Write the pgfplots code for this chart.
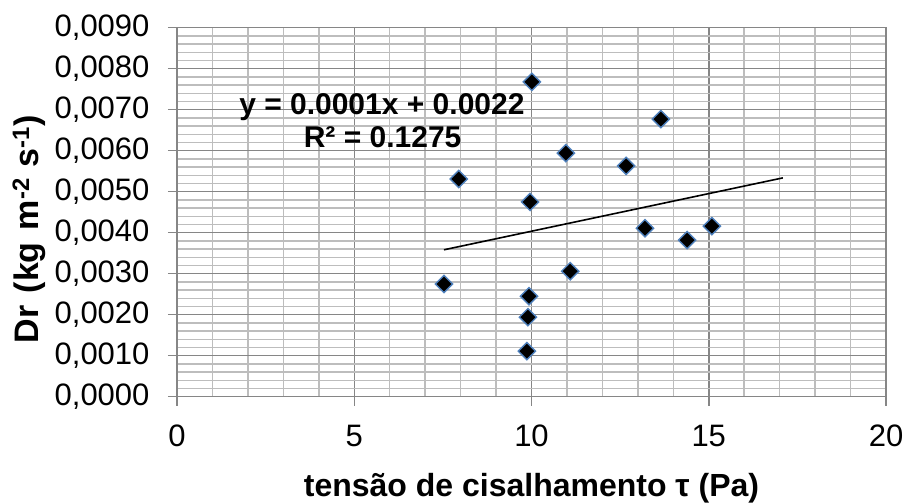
\documentclass[border=0pt]{standalone}
\usepackage{fontspec}
\setmainfont{Liberation Sans}
\usepackage{pgfplots}
\pgfplotsset{compat=1.18}
\definecolor{majgrid}{HTML}{868686}
\definecolor{mingrid}{HTML}{BDBDBD}
\definecolor{mkedge}{HTML}{4F81BD}
\begin{document}
\begin{tikzpicture}
\path[use as bounding box] (-177bp,-107.3bp) rectangle (728bp,396.7bp);
\begin{axis}[
  at={(0,0)}, anchor=south west,
  scale only axis, width=709bp, height=369bp,
  xmin=0, xmax=20, ymin=0, ymax=0.009,
  xtick={0,5,10,15,20},
  ytick={0,0.001,0.002,0.003,0.004,0.005,0.006,0.007,0.008,0.009},
  minor x tick num=4, minor y tick num=4,
  grid=both,
  major grid style={draw=majgrid, line width=1.5bp},
  minor grid style={draw=mingrid, line width=1.5bp},
  axis line style={draw=majgrid, line width=1.5bp},
  tick align=outside, xtick pos=bottom, ytick pos=left,
  major tick length=9bp, minor tick length=0pt,
  major tick style={draw=majgrid, line width=1.5bp},
  scaled y ticks=false,
  /pgf/number format/assume math mode=true,
  yticklabel style={/pgf/number format/.cd, fixed, fixed zerofill, precision=4, use comma, /tikz/.cd, xshift=-15bp},
  xticklabel style={/pgf/number format/.cd, fixed, precision=0, /tikz/.cd, yshift=-16bp},
  tick label style={font=\fontsize{31bp}{36bp}\selectfont, text=black},
  xlabel={\bfseries tensão de cisalhamento τ (Pa)},
  ylabel={\bfseries Dr\hspace{0.08em} (kg\hspace{0.08em} m\textsuperscript{-2}\hspace{0.05em} s\textsuperscript{-1})},
  label style={font=\fontsize{32bp}{36bp}\selectfont},
  xlabel style={at={(rel axis cs:0.5,0)}, anchor=center, yshift=-91.3bp},
  ylabel style={at={(rel axis cs:0,0.5)}, anchor=center, yshift=148bp, xshift=-17bp, font=\fontsize{34bp}{38bp}\selectfont},
  clip=false,
]
\addplot[only marks, mark=square*, mark size=6.1bp,
  mark options={rotate=45, fill=black, draw=mkedge, line width=1.4bp}]
  coordinates {
  (10.01,0.00768) (13.65,0.00677) (10.97,0.00594) (12.67,0.00563)
  (7.95,0.00531) (9.96,0.00475) (13.20,0.00411) (15.09,0.00416)
  (14.39,0.00382) (11.09,0.00306) (7.53,0.00275) (9.93,0.00245)
  (9.90,0.00194) (9.87,0.00111)
  };
\addplot[black, line width=1.6bp] coordinates {(7.53,0.003583) (17.09,0.005337)};
\node[font=\fontsize{30bp}{34bp}\selectfont\bfseries, anchor=center] at (axis cs:5.78,0.00707) {y = 0.0001x + 0.0022};
\node[font=\fontsize{30bp}{34bp}\selectfont\bfseries, anchor=center] at (axis cs:5.8,0.00633) {R² = 0.1275};
\end{axis}
\end{tikzpicture}
\end{document}
